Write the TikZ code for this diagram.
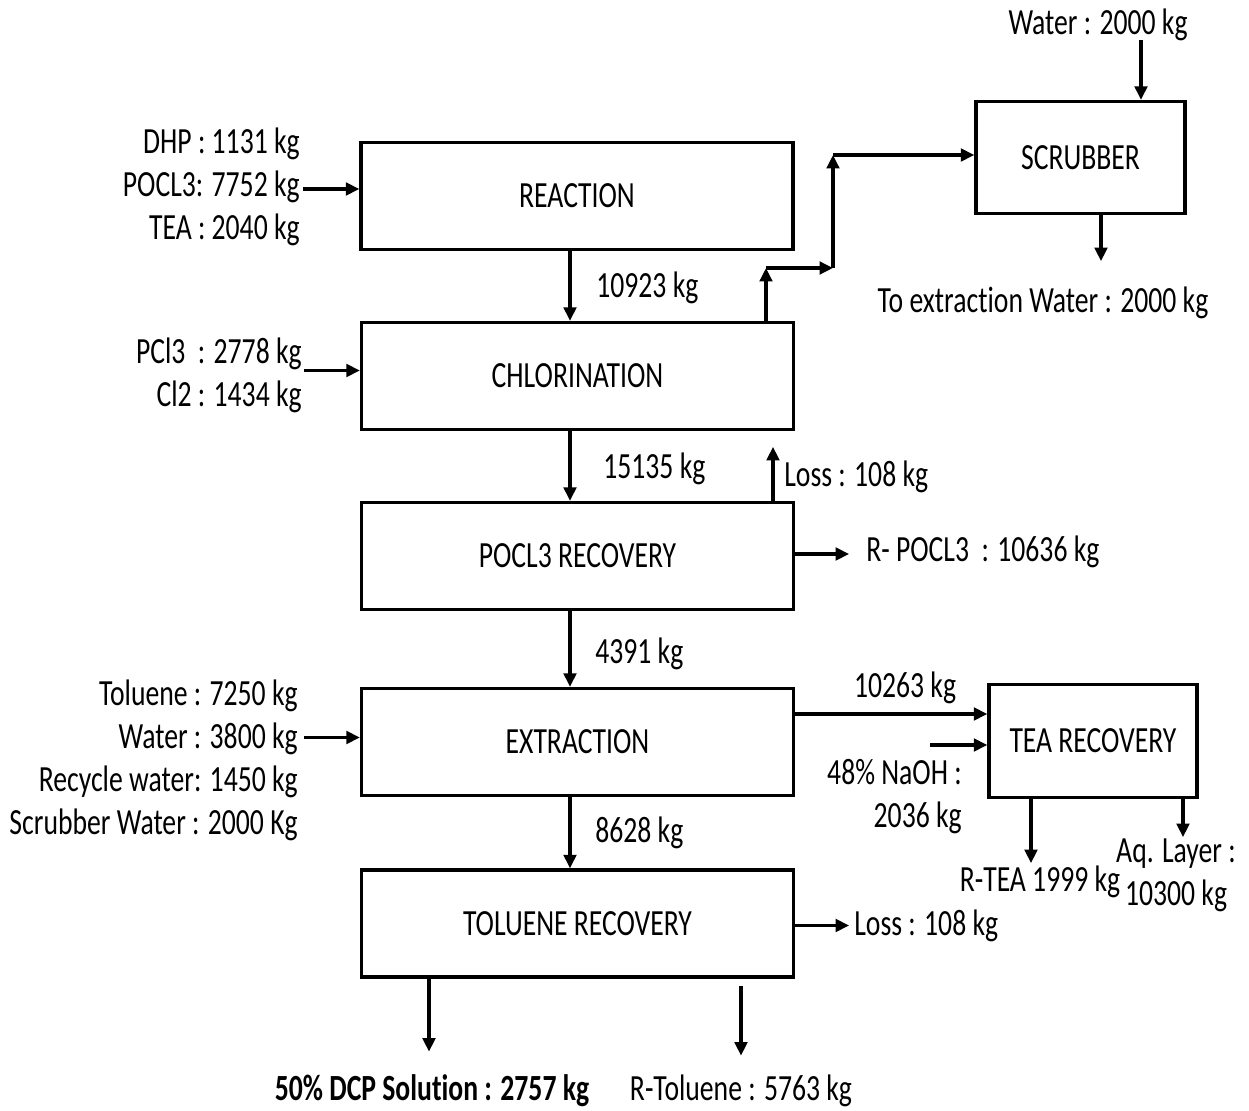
\documentclass[tikz,border=0pt]{standalone}
\usepackage{fontspec}
\setmainfont{Carlito}[FakeStretch=0.75, Ligatures=NoCommon]
\usetikzlibrary{
    arrows.meta,
    positioning,
    calc,
}

\begin{document}
\begin{tikzpicture}[
        x=0.02cm, y=-0.02cm,
        every node/.style={font=\fontsize{21}{24.5}\selectfont},
        unit/.style={
            draw, line width=1.9pt, inner sep=0pt,
            minimum width=8.64cm, minimum height=2.14cm,
        },
        stream/.style={inner sep=0pt},
        flow/.style={
            line width=1.9pt,
            -{Triangle[length=0.27cm, width=0.25cm]},
        },
    ]
        \useasboundingbox (0,0) rectangle (1249,1111);
        % process units
        \node[unit] (reaction) at (577,196) {REACTION};
        \node[unit] (chlor) at (577.5,376) {CHLORINATION};
        \node[unit] (pocl) at (577.5,556) {POCL3 RECOVERY};
        \node[unit] (extraction) at (577.5,742) {EXTRACTION};
        \node[unit] (toluene) at (577.5,923.5) {TOLUENE RECOVERY};
        \node[unit, minimum width=4.18cm, minimum height=2.24cm] (scrubber) at (1080.5,157.5) {SCRUBBER};
        \node[unit, minimum width=4.16cm, minimum height=2.26cm] (tea) at (1093,741) {TEA RECOVERY};

        % feeds
        \node[stream, anchor=east, align=right] (feedreac) at (300,187) {DHP : 1131 kg\\POCL3: 7752 kg\\TEA : 2040 kg};
        \node[stream, anchor=east, align=right] (feedchlor) at (302,375) {PCl3\ \ : 2778 kg\\Cl2 : 1434 kg};
        \node[stream, anchor=east, align=right] (feedext) at (298,760) {Toluene : 7250 kg\\Water : 3800 kg\\Recycle water: 1450 kg\\Scrubber Water : 2000 Kg};
        \node[stream] (water) at (1098,25) {Water : 2000 kg};
        \node[stream, anchor=east, align=right] (naoh) at (962,797) {48\% NaOH :\\2036 kg};

        % stream labels
        \node[stream, anchor=mid west] (s1) at (596,293) {10923 kg};
        \node[stream, anchor=mid west] (s2) at (603,474) {15135 kg};
        \node[stream, anchor=mid west] (s3) at (595,659) {4391 kg};
        \node[stream, anchor=mid west] (s4) at (595,838) {8628 kg};
        \node[stream] (s5) at (905,688) {10263 kg};

        % products
        \node[stream] (toext) at (1043,303) {To extraction Water : 2000 kg};
        \node[stream, anchor=mid west] (loss1) at (784,482) {Loss : 108 kg};
        \node[stream, anchor=mid west] (rpocl) at (866,557) {R- POCL3\ \ : 10636 kg};
        \node[stream, anchor=mid west] (loss2) at (854,931) {Loss : 108 kg};
        \node[stream] (rtea) at (1040,882) {R-TEA 1999 kg};
        \node[stream, align=center] (aq) at (1176,875) {Aq. Layer :\\10300 kg};
        \node[stream] (dcp) at (432,1091) {\textbf{50\% DCP Solution : 2757 kg}};
        \node[stream] (rtol) at (741,1091) {R-Toluene : 5763 kg};

        % main line
        \draw[flow] ($(reaction.south)+(-7,0)$) -- ($(chlor.north)+(-7.5,0)$);
        \draw[flow] ($(chlor.south)+(-7.5,0)$) -- ($(pocl.north)+(-7.5,0)$);
        \draw[flow] ($(pocl.south)+(-7.5,0)$) -- ($(extraction.north)+(-7.5,0)$);
        \draw[flow] ($(extraction.south)+(-7.5,0)$) -- ($(toluene.north)+(-7.5,0)$);

        % feed arrows
        \draw[flow] ($(reaction.west)+(-56,-7)$) -- ($(reaction.west)+(0,-7)$);
        \draw[flow] ($(chlor.west)+(-56,-5.5)$) -- ($(chlor.west)+(0,-5.5)$);
        \draw[flow] ($(extraction.west)+(-56,-4.5)$) -- ($(extraction.west)+(0,-4.5)$);

        % vent to scrubber
        \coordinate (v1) at (766,268);
        \coordinate (v2) at (833,268);
        \coordinate (v3) at (833,155);
        \draw[flow] (chlor.north -| v1) -- (v1);
        \draw[flow] (v1) -- (v2);
        \draw[flow] (v2) -- (v3);
        \draw[flow] (v3) -- (v3 -| scrubber.west);
        \draw[flow] ($(scrubber.north)+(60.5,-60)$) -- ($(scrubber.north)+(60.5,0)$);
        \draw[flow] ($(scrubber.south)+(20.5,0)$) -- ++(0,46);

        % side streams
        \draw[flow] ($(pocl.north)+(195.5,0)$) -- ++(0,-54);
        \draw[flow] ($(pocl.east)+(0,-2)$) -- ++(54,0);
        \draw[flow] ($(extraction.east)+(0,-28)$) -- ($(tea.west)+(0,-27)$);
        \draw[flow] ($(tea.west)+(-57,4)$) -- ($(tea.west)+(0,4)$);
        \draw[flow] ($(tea.south)+(-62,0)$) -- ++(0,64);
        \draw[flow] ($(tea.south)+(90,0)$) -- ++(0,38);
        \draw[flow] ($(toluene.east)+(0,2)$) -- ++(54,0);
        \draw[flow] ($(toluene.south)+(-148.5,0)$) -- ++(0,73);
        \draw[flow] ($(toluene.south)+(163.5,7)$) -- ++(0,70);
    \end{tikzpicture}
\end{document}
